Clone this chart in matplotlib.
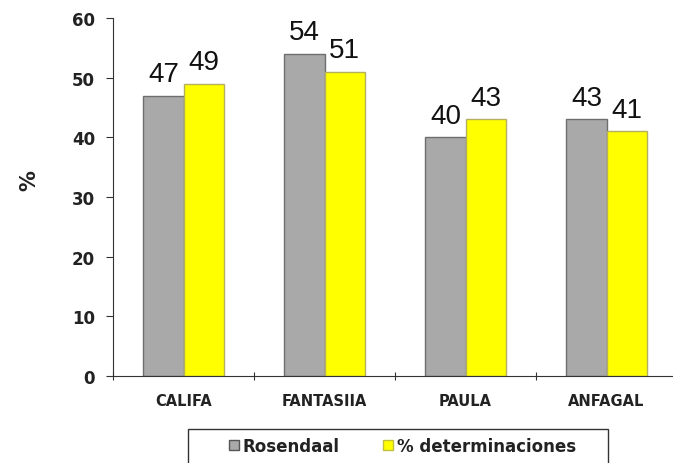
import matplotlib
matplotlib.use("Agg")
import matplotlib.pyplot as plt
from matplotlib.patches import Rectangle
import numpy as np

categories = ["CALIFA", "FANTASIIA", "PAULA", "ANFAGAL"]
rosendaal = [47, 54, 40, 43]
determinaciones = [49, 51, 43, 41]
series_names = ["Rosendaal", "% determinaciones"]
yticks = [0, 10, 20, 30, 40, 50, 60]

plt.rcParams['font.family'] = ['Liberation Sans', 'DejaVu Sans']
bold_font = "DejaVu Sans"

fig = plt.figure(figsize=(6.73, 4.64), dpi=100)
ax = fig.add_axes([0.168, 0.1875, 0.838, 0.7715])

x = np.arange(len(categories))
w = 0.285
b1 = ax.bar(x - w/2, rosendaal, w, color="#A9A9A9", edgecolor="#6E6E6E", linewidth=1.0, label=series_names[0])
b2 = ax.bar(x + w/2, determinaciones, w, color="#FFFF00", edgecolor="#B5B060", linewidth=1.0, label=series_names[1])

for rect, v in zip(b1, rosendaal):
    ax.text(rect.get_x() + rect.get_width()/2, v + 1.4, str(v), ha="center", va="bottom", fontsize=20, color="#111111")
for rect, v in zip(b2, determinaciones):
    ax.text(rect.get_x() + rect.get_width()/2, v + 1.4, str(v), ha="center", va="bottom", fontsize=20, color="#111111")

ax.set_xlim(-0.5, len(categories) - 0.5)
ax.set_ylim(0, 60)
ax.set_yticks(yticks)
ax.set_yticklabels([str(t) for t in yticks], fontsize=12, fontweight="bold", family=bold_font, color="#222222")
ax.set_xticks(np.arange(len(categories) + 1) - 0.5, minor=False)
ax.set_xticklabels([""] * (len(categories) + 1))
ax.set_xticks(x, minor=True)
ax.set_xticklabels(categories, minor=True, fontsize=10.5, fontweight="bold", family=bold_font, color="#222222")
ax.tick_params(axis="x", which="minor", length=0, pad=12)
ax.tick_params(axis="x", which="major", direction="inout", length=6, color="#333333")
ax.tick_params(axis="y", direction="out", length=5, color="#333333", pad=8)

for s in ["top", "right"]:
    ax.spines[s].set_visible(False)
ax.spines["left"].set_color("#333333")
ax.spines["bottom"].set_color("#333333")

ax.set_ylabel("%", fontsize=15, fontweight="bold", family=bold_font, color="#222222")
ax.yaxis.set_label_coords(-0.13, 0.55)

leg = fig.legend(handles=[b1, b2], labels=series_names, loc="center",
                 bbox_to_anchor=(0.598, 1 - 447 / 464), ncol=2, frameon=False,
                 prop={"weight": "bold", "size": 12, "family": bold_font},
                 handlelength=0.6, handleheight=0.6, handletextpad=0.25, columnspacing=2.6,
                 borderpad=0.0, borderaxespad=0)
leg.legend_handles[0].set_edgecolor("#555555")
leg.legend_handles[1].set_edgecolor("#C0C040")
for t in leg.get_texts():
    t.set_color("#222222")

box = Rectangle((188 / 673, -0.05), 420 / 673, 0.05 + (464 - 430) / 464,
                transform=fig.transFigure, fill=False, edgecolor="#333333", linewidth=1.0)
fig.patches.append(box)

fig.savefig("out.png", dpi=100)
